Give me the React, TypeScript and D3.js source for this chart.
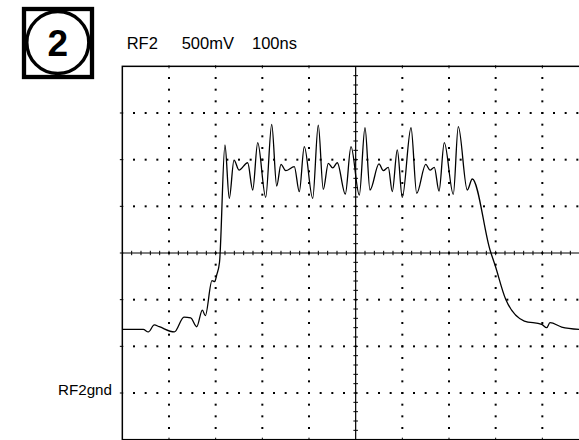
import React from "react";
import * as d3 from "d3";

// Trace samples: time (ns from left edge, 100 ns/div), voltage (mV above RF2gnd, 500 mV/div)
const traceTimes = [0, 44.9, 55.6, 68.5, 79.2, 111.4, 132.1, 146.5, 159.4, 171.4, 177.8, 192.1, 197.9, 202.2, 208.3, 219.9, 229.2, 239.3, 250, 268.6, 279.4, 290.1, 307.2, 320.1, 330.8, 340, 350.1, 368.5, 379.2, 389.9, 407.9, 419.9, 430.6, 441.4, 450.8, 460.6, 477.8, 490, 507.8, 520, 530.7, 550, 559.2, 569.9, 578.5, 589.2, 599.9, 618.6, 630.8, 650.1, 659.3, 668.5, 678.6, 689.9, 709.2, 719.9, 739.2, 749.9, 787.9, 798.6, 821.5, 861.4, 898.6, 909.4, 916.4, 941.5, 978.6];
const traceVolts = [682, 682, 654, 729, 710, 654, 814, 804, 710, 889, 828, 1203, 1193, 1264, 1404, 2657, 2086, 2496, 2389, 2467, 2175, 2682, 2097, 2879, 2218, 2450, 2382, 2425, 2157, 2639, 2086, 2871, 2182, 2461, 2411, 2467, 2132, 2639, 2121, 2842, 2175, 2454, 2382, 2418, 2157, 2604, 2097, 2842, 2140, 2450, 2389, 2418, 2164, 2682, 2129, 2853, 2175, 2293, 1532, 1371, 1004, 771, 736, 700, 753, 707, 682];

const channelLabel = "RF2";
const voltsLabel = "500mV";
const timeLabel = "100ns";
const groundLabel = "RF2gnd";
const badgeLabel = "2";

const timeDomain = [0, 1000];
const voltDomain = [-500, 3500];
const timeDivs = d3.range(0, 1001, 100);
const voltDivs = d3.range(-500, 3501, 500);

export default function App() {
  const W = 579, H = 440;
  const left = 122.33, right = 589, top = 66.33, bottom = 439.67;
  const x = d3.scaleLinear().domain(timeDomain).range([left, right]);
  const y = d3.scaleLinear().domain(voltDomain).range([bottom, top]);
  const tCenter = 500, vCenter = 1500;

  const innerT = timeDivs.filter((t) => t > timeDomain[0] && t < timeDomain[1] && t !== tCenter);
  const innerV = voltDivs.filter((v) => v > voltDomain[0] && v < voltDomain[1] && v !== vCenter);

  const dots: { cx: number; cy: number }[] = [];
  const vSteps = d3.range(voltDomain[0] + 125, voltDomain[1], 125);
  const tSteps = d3.range(timeDomain[0] + 25, timeDomain[1], 25);
  innerT.forEach((t) => vSteps.forEach((v) => dots.push({ cx: x(t), cy: y(v) })));
  innerV.forEach((v) => tSteps.forEach((t) => dots.push({ cx: x(t), cy: y(v) })));

  const minorT = d3.range(timeDomain[0] + 20, timeDomain[1], 20);
  const minorV = d3.range(voltDomain[0] + 100, voltDomain[1], 100);

  const line = d3
    .line<number>()
    .x((_, i) => x(traceTimes[i]))
    .y((d) => y(d))
    .curve(d3.curveMonotoneX);

  return (
    <svg width={W} height={H} style={{ position: "absolute", left: 0, top: 0 }} fontFamily="'Liberation Sans', Arial, Helvetica, sans-serif">
      <rect x={0} y={0} width={W} height={H} fill="#fff" />
      {/* badge */}
      <rect x={24} y={9} width={68} height={68} fill="none" stroke="#000" strokeWidth={4.3} />
      <circle cx={57.8} cy={42.5} r={31} fill="none" stroke="#000" strokeWidth={3.4} />
      <text x={57.8} y={55.5} textAnchor="middle" fontSize={37} fontWeight="bold">{badgeLabel}</text>
      {/* header */}
      <text x={126.7} y={48.5} fontSize={16.5}>{channelLabel}</text>
      <text x={181.7} y={48.5} fontSize={16.5}>{voltsLabel}</text>
      <text x={252} y={48.5} fontSize={16.5}>{timeLabel}</text>
      <text x={112} y={395} textAnchor="end" fontSize={15.2}>{groundLabel}</text>
      {/* dotted grid */}
      {dots.map((d, i) => (
        <rect key={i} x={d.cx - 1} y={d.cy - 1} width={2} height={2} fill="#000" />
      ))}
      {/* center axes */}
      <line x1={x(tCenter)} x2={x(tCenter)} y1={top} y2={bottom} stroke="#000" strokeWidth={1.2} />
      <line x1={left} x2={right} y1={y(vCenter)} y2={y(vCenter)} stroke="#000" strokeWidth={1.2} />
      {minorT.map((t) => (
        <line key={"mt" + t} x1={x(t)} x2={x(t)} y1={y(vCenter) - 2.2} y2={y(vCenter) + 2.2} stroke="#000" strokeWidth={1} />
      ))}
      {minorV.map((v) => (
        <line key={"mv" + v} x1={x(tCenter) - 2.3} x2={x(tCenter) + 2.3} y1={y(v)} y2={y(v)} stroke="#000" strokeWidth={1} />
      ))}
      {/* frame ticks */}
      {innerT.map((t) => (
        <g key={"ft" + t}>
          <line x1={x(t)} x2={x(t)} y1={top - 1} y2={top + 2} stroke="#000" strokeWidth={1} />
          <line x1={x(t)} x2={x(t)} y1={bottom - 2} y2={bottom + 1} stroke="#000" strokeWidth={1} />
        </g>
      ))}
      {innerV.concat([vCenter]).map((v) => (
        <line key={"fv" + v} x1={left - 2.5} x2={left + 1} y1={y(v)} y2={y(v)} stroke="#000" strokeWidth={1} />
      ))}
      {/* frame */}
      <rect x={left} y={top} width={right - left} height={bottom - top} fill="none" stroke="#000" strokeWidth={1.5} />
      {/* trace */}
      <path d={line(traceVolts) || ""} fill="none" stroke="#000" strokeWidth={1.3} strokeLinejoin="round" />
    </svg>
  );
}
